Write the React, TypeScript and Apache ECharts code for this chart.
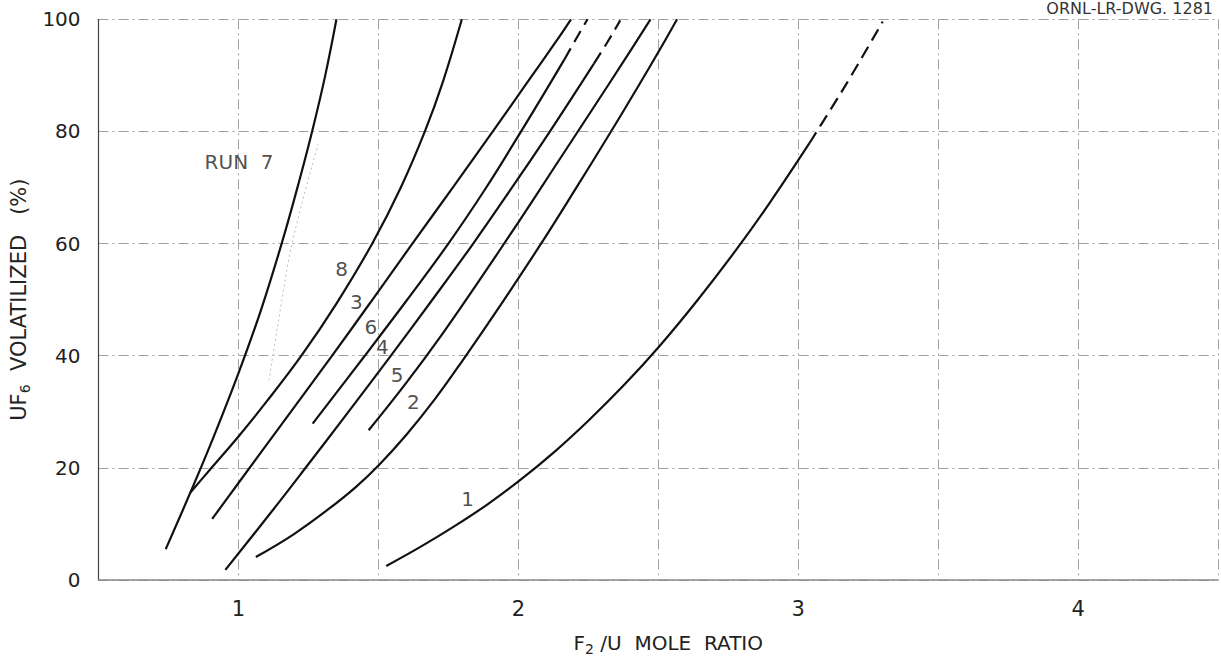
import React, { useEffect, useRef } from "react";
import * as echarts from "echarts";

// ---- data (x = F2/U mole ratio, y = UF6 volatilized %) ----
const run7: number[][] = [[0.74, 5.5], [0.828, 15.6], [0.91, 25.4], [1.0, 36.9], [1.08, 48.1], [1.156, 60.3], [1.215, 70.8], [1.267, 80.8], [1.31, 90], [1.35, 100]];
const run7Dotted: number[][] = [[1.109, 35.6], [1.139, 45], [1.191, 60], [1.284, 77.7]];
const run8: number[][] = [[0.828, 15.6], [0.9, 19.8], [1.0, 25.6], [1.1, 31.8], [1.226, 40.1], [1.35, 49.3], [1.48, 60.2], [1.58, 70], [1.666, 80], [1.73, 88.8], [1.798, 100]];
const run3: number[][] = [[0.906, 10.9], [1.0, 17.3], [1.15, 27.5], [1.33, 39.7], [1.47, 49.4], [1.62, 59.9], [1.77, 70.3], [1.91, 80.1], [2.03, 88.6], [2.141, 96.5], [2.188, 100]];
const run6: number[][] = [[1.265, 27.9], [1.45, 39.9], [1.6, 49.8], [1.75, 60], [1.88, 69.6], [2.0, 79.2], [2.09, 86.6], [2.164, 92.8]];
const run6Dashed: number[][] = [[2.164, 92.8], [2.205, 96.4], [2.247, 100]];
const run4: number[][] = [[0.953, 1.8], [1.12, 12.3], [1.235, 19.7], [1.39, 29.8], [1.54, 39.7], [1.69, 49.8], [1.84, 60.1], [1.98, 70.2], [2.11, 79.8], [2.27, 92.1]];
const run4Dashed: number[][] = [[2.27, 92.1], [2.318, 95.9], [2.364, 99.8]];
const run5: number[][] = [[1.465, 26.7], [1.6, 35.2], [1.73, 44], [1.86, 53.4], [2.0, 63.8], [2.13, 73.7], [2.26, 83.6], [2.38, 92.8], [2.472, 100]];
const run2: number[][] = [[1.062, 4.1], [1.197, 8.15], [1.326, 12.8], [1.42, 16.6], [1.502, 20.5], [1.6, 25.9], [1.701, 32.2], [1.8, 39.1], [1.94, 49.3], [2.08, 59.9], [2.2, 69.4], [2.33, 79.9], [2.43, 88.2], [2.516, 95.5], [2.567, 100]];
const run1: number[][] = [[1.528, 2.5], [1.65, 5.9], [1.772, 9.6], [1.89, 13.5], [2.006, 17.8], [2.13, 22.9], [2.25, 28.4], [2.38, 34.9], [2.504, 41.7], [2.64, 49.9], [2.78, 59], [2.9, 67.4], [3.04, 77.9]];
const run1Dashed: number[][] = [[3.04, 77.9], [3.17, 88.3], [3.302, 99.6]];

const curveLabels = [
  { name: "RUN  7", value: [1.002, 74.6] },
  { name: "8", value: [1.368, 55.5] },
  { name: "3", value: [1.421, 49.5] },
  { name: "6", value: [1.473, 45.1] },
  { name: "4", value: [1.514, 41.5] },
  { name: "5", value: [1.567, 36.5] },
  { name: "2", value: [1.625, 31.8] },
  { name: "1", value: [1.819, 14.5] },
];

const X_MIN = 0.5;
const X_MAX = 4.5;
const X_STEP = 0.5;
const Y_MIN = 0;
const Y_MAX = 100;
const Y_STEP = 20;

const drawingNumber = "ORNL-LR-DWG. 1281";
const xName = "F{s|2} /U  MOLE  RATIO";
const yName = "UF{s|6}  VOLATILIZED   (%)";

const FONT = "DejaVu Sans";
const INK = "#111";

function solid(data: number[][]) {
  return {
    type: "line",
    data,
    showSymbol: false,
    smooth: 0.4,
    silent: true,
    lineStyle: { color: INK, width: 2.2 },
    z: 3,
  };
}
function dashed(data: number[][]) {
  return {
    type: "line",
    data,
    showSymbol: false,
    smooth: 0.3,
    silent: true,
    lineStyle: { color: INK, width: 2.2, type: [13, 7] },
    z: 3,
  };
}

export default function App() {
  const ref = useRef<HTMLDivElement>(null);
  useEffect(() => {
    if (!ref.current) return;
    const chart = echarts.init(ref.current, undefined, { renderer: "svg" });
    const gridLine = { color: "#a0a0a0", width: 1, type: [10, 4, 2, 4] };
    chart.setOption({
      animation: false,
      backgroundColor: "#fff",
      grid: { left: 96, top: 19.3, width: 1137.2, height: 565.7, containLabel: false },
      xAxis: {
        type: "value",
        min: X_MIN,
        max: X_MAX,
        interval: X_STEP,
        axisLine: { show: true, lineStyle: { color: "#888", width: 1.5 } },
        axisTick: { show: false },
        splitLine: { show: true, lineStyle: gridLine },
        axisLabel: {
          margin: 18,
          fontSize: 21,
          color: "#222",
          fontFamily: FONT,
          formatter: (v: number) => (Number.isInteger(v) ? String(v) : ""),
        },
        name: xName,
        nameLocation: "middle",
        nameGap: 50,
        nameTextStyle: {
          fontSize: 20,
          color: "#222",
          fontFamily: FONT,
          padding: [0, 0, 0, 20],
          rich: { s: { fontSize: 14, color: "#222", fontFamily: FONT, padding: [12, 0, 0, 0] } },
        },
      },
      yAxis: {
        type: "value",
        min: Y_MIN,
        max: Y_MAX,
        interval: Y_STEP,
        axisLine: { show: true, lineStyle: { color: "#444", width: 1.2 } },
        axisTick: { show: false },
        splitLine: { show: true, lineStyle: gridLine },
        axisLabel: { margin: 18, fontSize: 20, color: "#222", fontFamily: FONT },
        name: yName,
        nameLocation: "middle",
        nameGap: 54,
        nameTextStyle: {
          fontSize: 21,
          color: "#222",
          fontFamily: FONT,
          rich: { s: { fontSize: 14, color: "#222", fontFamily: FONT, padding: [12, 0, 0, 0] } },
        },
      },
      graphic: [
        {
          type: "text",
          style: {
            text: drawingNumber,
            x: 1213,
            y: 0,
            align: "right",
            verticalAlign: "top",
            fontSize: 16,
            fontFamily: FONT,
            fill: "#333",
          },
        },
      ],
      series: [
        solid(run7),
        {
          type: "line",
          data: run7Dotted,
          showSymbol: false,
          smooth: 0.3,
          silent: true,
          lineStyle: { color: "#bbb", width: 1, type: [2, 3] },
          z: 2,
        },
        solid(run8),
        solid(run3),
        solid(run6),
        dashed(run6Dashed),
        solid(run4),
        dashed(run4Dashed),
        solid(run5),
        solid(run2),
        solid(run1),
        dashed(run1Dashed),
        {
          type: "scatter",
          data: curveLabels,
          symbolSize: 1,
          silent: true,
          itemStyle: { color: "rgba(0,0,0,0)" },
          label: {
            show: true,
            position: "inside",
            formatter: "{b}",
            fontSize: 20,
            color: "#222",
            fontFamily: FONT,
          },
          z: 5,
        },
      ],
    });
    return () => chart.dispose();
  }, []);
  return (
    <div
      ref={ref}
      style={{ position: "fixed", left: 0, top: 0, width: 1221, height: 661, background: "#fff" }}
    />
  );
}
